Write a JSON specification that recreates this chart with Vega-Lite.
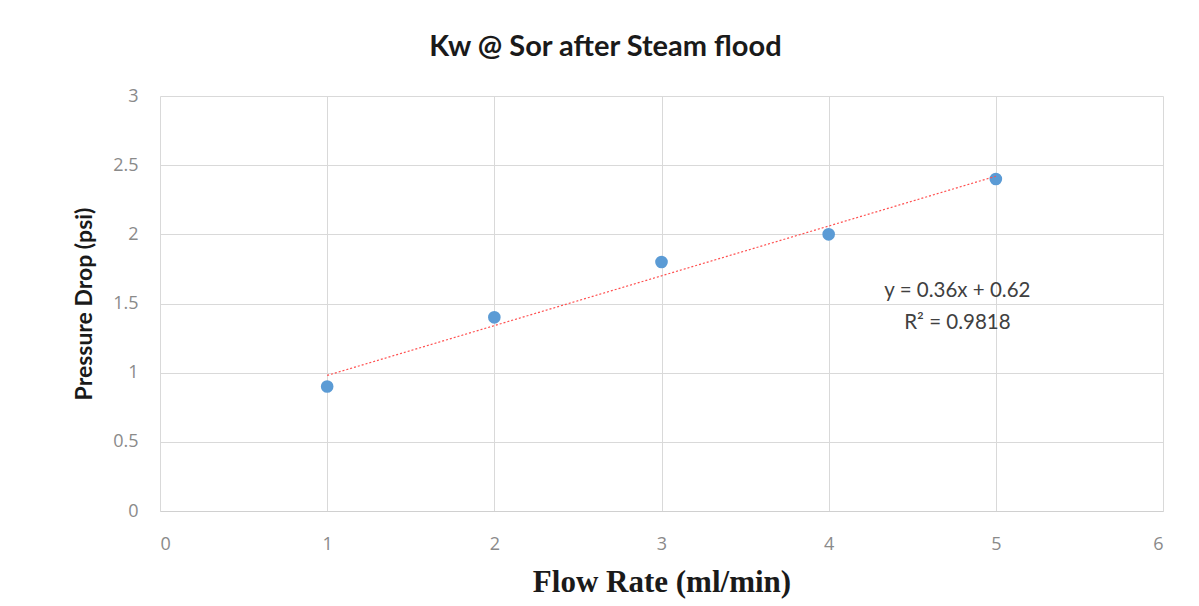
{
  "$schema": "https://vega.github.io/schema/vega-lite/v6.json",
  "width": 1003,
  "height": 415,
  "autosize": {"type": "none"},
  "padding": {"left": 160, "top": 96, "right": 36, "bottom": 95},
  "background": "white",
  "title": {
    "text": "Kw @ Sor after Steam flood",
    "font": "Lato",
    "fontSize": 29,
    "fontWeight": "bold",
    "color": "#1a1a1a",
    "anchor": "middle",
    "dx": -56,
    "offset": 25
  },
  "config": {
    "view": {"stroke": null},
    "axis": {
      "gridColor": "#d9d9d9",
      "gridWidth": 1,
      "labelColor": "#8a8a8a",
      "labelFont": "Open Sans",
      "labelFontSize": 18,
      "ticks": false,
      "domain": false,
      "format": "~g"
    }
  },
  "layer": [
    {
      "data": {"values": [
        {"flow": 1, "dp": 0.9},
        {"flow": 2, "dp": 1.4},
        {"flow": 3, "dp": 1.8},
        {"flow": 4, "dp": 2.0},
        {"flow": 5, "dp": 2.4}
      ]},
      "mark": {"type": "point", "filled": true, "size": 160, "color": "#5b9bd5", "opacity": 1},
      "encoding": {
        "x": {
          "field": "flow", "type": "quantitative",
          "scale": {"domain": [0, 6], "nice": false},
          "axis": {
            "values": [0, 1, 2, 3, 4, 5, 6],
            "format": "~g",
            "title": "Flow Rate (ml/min)",
            "titleFont": "Liberation Serif",
            "titleFontSize": 31,
            "titleFontWeight": "bold",
            "titleColor": "#1a1a1a",
            "titlePadding": 14,
            "labelPadding": 24,
            "domain": true,
            "domainColor": "#d0d0d0"
          }
        },
        "y": {
          "field": "dp", "type": "quantitative",
          "scale": {"domain": [0, 3], "nice": false},
          "axis": {
            "values": [0, 0.5, 1, 1.5, 2, 2.5, 3],
            "format": "~g",
            "title": "Pressure Drop (psi)",
            "titleFont": "Lato",
            "titleFontSize": 23,
            "titleFontWeight": "bold",
            "titleColor": "#1a1a1a",
            "titlePadding": 16,
            "labelPadding": 22
          }
        }
      }
    },
    {
      "data": {"values": [
        {"flow": 1, "dp": 0.98},
        {"flow": 5, "dp": 2.42}
      ]},
      "mark": {"type": "line", "color": "#ff5050", "strokeWidth": 1.2, "strokeDash": [2, 2]},
      "encoding": {
        "x": {"field": "flow", "type": "quantitative"},
        "y": {"field": "dp", "type": "quantitative"}
      }
    },
    {
      "data": {"values": [
        {"flow": 4.77, "dp": 1.59, "label": "y = 0.36x + 0.62"},
        {"flow": 4.77, "dp": 1.36, "label": "R² = 0.9818"}
      ]},
      "mark": {"type": "text", "font": "Lato", "fontSize": 20.5, "color": "#404040", "align": "center", "baseline": "middle"},
      "encoding": {
        "x": {"field": "flow", "type": "quantitative"},
        "y": {"field": "dp", "type": "quantitative"},
        "text": {"field": "label"}
      }
    }
  ]
}
